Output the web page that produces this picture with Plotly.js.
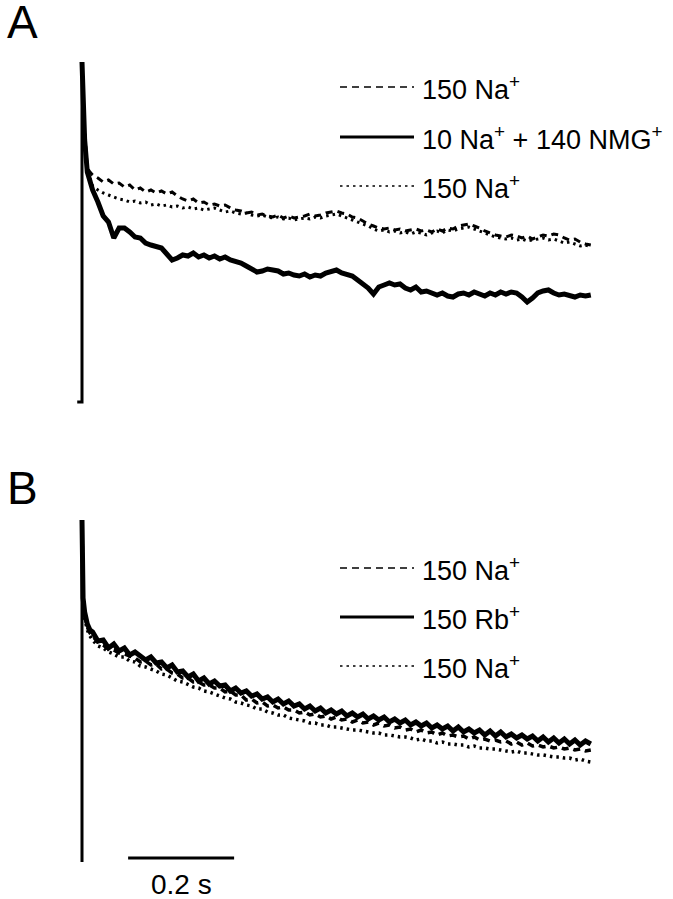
<!DOCTYPE html>
<html>
<head>
<meta charset="utf-8">
<script src="https://cdn.plot.ly/plotly-3.0.1.min.js"></script>
<style>html,body{margin:0;padding:0;background:#fff;}#chart{width:673px;height:899px;}</style>
</head>
<body>
<div id="chart"></div>
<script>
// time in ms
const timeMs = [0,2,5,10,15,20,30,40,50,60,70,80,90,100,110,120,130,140,150,160,170,180,190,200,210,220,230,240,250,260,270,280,290,300,310,320,330,340,350,360,370,380,390,400,410,420,430,440,450,460,470,480,490,500,510,520,530,540,550,560,570,580,590,600,610,620,630,640,650,660,670,680,690,700,710,720,730,740,750,760,770,780,790,800,810,820,830,840,850,860,870,880,890,900,910,920,930,940,950,960];

// Panel A (current, arbitrary units)
const aNa1 = [340,300,270,234,230,227,224,220,222,218,219,215,217,212,214,210,212,209,211,208,210,206,203,201,203,199,200,197,198,196,197,194,192,191,189,190,187,188,186,185,187,184,186,184,185,186,188,186,187,189,190,191,189,188,185,184,181,178,176,174,173,174,172,173,171,172,173,171,172,170,173,171,174,173,176,177,178,176,174,171,169,167,166,165,167,166,164,166,163,165,167,166,168,167,164,162,163,160,158,157];
const aNMG = [340,302,262,230,220,212,200,186,180,164,174,174,170,165,164,159,157,155,154,148,142,144,147,146,149,145,147,144,146,143,145,142,141,139,136,133,130,131,133,132,131,128,129,127,126,128,125,127,126,129,130,132,129,127,126,122,118,114,108,115,117,119,117,118,114,112,115,110,111,109,107,109,106,105,108,109,107,110,108,106,109,107,110,108,110,109,105,100,104,109,111,112,109,107,108,106,105,107,106,107];
const aNa2 = [340,298,268,232,224,216,212,209,207,205,203,202,200,201,199,200,197,198,196,197,195,196,194,195,193,194,192,193,194,192,190,191,189,188,189,187,186,187,185,184,185,183,184,182,183,184,183,185,184,186,187,188,186,184,182,180,178,176,173,171,172,170,171,169,170,168,170,169,167,169,171,169,172,171,173,174,175,173,171,169,167,165,164,163,164,162,163,161,162,163,164,162,163,161,159,160,158,156,157,155];

// Panel B
const bNa1 = [342,262,247,235,229,226,220,217,213,212,209,208,206,204,200,201,197,198,193,193,189,188,184,184,180,180,177,177,174,174,170,171,167,167,162,163,159,160,156,157,154,155,152,152,149,150,147,148,145,146,143,145,142,143,140,142,139,140,137,139,136,137,134,135,132,133,130,132,129,130,127,129,126,127,125,126,123,125,122,123,121,122,120,121,118,120,117,119,116,117,115,116,114,115,113,114,112,113,111,112];
const bRb = [342,264,250,238,232,230,221,222,214,218,211,214,207,210,206,202,205,199,200,194,197,190,191,185,188,181,184,178,181,176,177,171,174,169,171,166,168,163,165,160,163,158,161,156,158,153,156,151,154,149,152,148,151,146,149,145,148,143,146,142,145,140,143,139,142,137,140,136,139,134,137,133,136,131,135,130,133,129,132,127,131,126,130,125,128,124,127,123,126,121,125,120,124,119,123,118,122,117,121,118];
const bNa2 = [342,260,244,232,226,222,216,214,210,208,205,205,201,200,196,195,193,191,188,187,184,181,180,177,175,174,171,170,168,166,164,163,160,159,157,156,153,153,150,149,147,147,144,143,142,141,139,139,137,137,135,135,134,133,132,132,131,130,129,129,127,127,126,125,125,124,122,123,121,121,119,120,118,118,117,117,115,116,114,114,113,113,112,111,110,111,109,109,108,107,107,106,105,105,104,104,102,103,101,100];

// Onset steps
const onsetA_t = [-9, 0, 0];
const onsetA_v = [0, 0, 340];
const onsetB_t = [0, 0];
const onsetB_v = [0, 342];

// Scale bar (ms)
const scaleBarMs = [87, 287];
const scaleLabel = "0.2 s";

const legendA = ["150 Na<sup>+</sup>", "10 Na<sup>+</sup> + 140 NMG<sup>+</sup>", "150 Na<sup>+</sup>"];
const legendB = ["150 Na<sup>+</sup>", "150 Rb<sup>+</sup>", "150 Na<sup>+</sup>"];

const FONT = "Arial, 'Liberation Sans', sans-serif";
const dashStyle = "7px,5px";
const dotStyle = "2.5px,4px";

function tr(x, y, xa, ya, w, dash){
  return {x:x, y:y, xaxis:xa, yaxis:ya, type:'scatter', mode:'lines',
    line:{color:'#000', width:w, dash:dash}, hoverinfo:'skip', showlegend:false};
}

const data = [
  tr(onsetA_t, onsetA_v, 'x', 'y', 3, 'solid'),
  tr(timeMs, aNa1, 'x', 'y', 3, dashStyle),
  tr(timeMs, aNa2, 'x', 'y', 3, dotStyle),
  tr(timeMs, aNMG, 'x', 'y', 5, 'solid'),
  tr(onsetB_t, onsetB_v, 'x2', 'y2', 3, 'solid'),
  tr(timeMs, bNa1, 'x2', 'y2', 3.5, dashStyle),
  tr(timeMs, bNa2, 'x2', 'y2', 3.5, dotStyle),
  tr(timeMs, bRb, 'x2', 'y2', 5, 'solid'),
  {x: scaleBarMs, y: [4, 4], xaxis:'x2', yaxis:'y2', type:'scatter', mode:'lines',
    line:{color:'#000', width:3}, hoverinfo:'skip', showlegend:false}
];

const W = 673, H = 899;
const px = v => v / W;
const py = v => 1 - v / H;

const shapes = [];
const annotations = [];
const styles = [dashStyle, 'solid', dotStyle];
const widths = [1.5, 3, 1.5];
const rowsA = [87, 137, 186];
const rowsB = [568, 617, 666];
function addLegend(rows, labels){
  rows.forEach((r, i) => {
    shapes.push({type:'line', xref:'paper', yref:'paper', x0:px(340), x1:px(414), y0:py(r), y1:py(r),
      line:{color:'#000', width:widths[i], dash:styles[i]}});
    annotations.push({xref:'paper', yref:'paper', x:px(420), y:py(r+1), xanchor:'left', yanchor:'middle',
      text:labels[i], showarrow:false, font:{family:FONT, size:27, color:'#000'}});
  });
}
addLegend(rowsA, legendA);
addLegend(rowsB, legendB);

annotations.push({xref:'paper', yref:'paper', x:px(5), y:py(22), xanchor:'left', yanchor:'middle',
  text:'A', showarrow:false, font:{family:FONT, size:46, color:'#000'}});
annotations.push({xref:'paper', yref:'paper', x:px(5), y:py(488), xanchor:'left', yanchor:'middle',
  text:'B', showarrow:false, font:{family:FONT, size:46, color:'#000'}});
annotations.push({xref:'x2', yref:'y2', x:(scaleBarMs[0]+scaleBarMs[1])/2, y:-22, xanchor:'center', yanchor:'middle',
  text:scaleLabel, showarrow:false, font:{family:FONT, size:28, color:'#000'}});

const xr = [-154.72, 1115.09];
const ax = {showgrid:false, zeroline:false, showticklabels:false, ticks:'', showline:false, fixedrange:true};
const layout = {
  width:W, height:H, margin:{l:0, r:0, t:0, b:0}, paper_bgcolor:'#fff', plot_bgcolor:'rgba(0,0,0,0)',
  showlegend:false,
  xaxis: Object.assign({}, ax, {range:xr, domain:[0,1], anchor:'y'}),
  xaxis2: Object.assign({}, ax, {range:xr, domain:[0,1], anchor:'y2'}),
  yaxis: Object.assign({}, ax, {range:[-47.5, 402], domain:[0.5,1], anchor:'x'}),
  yaxis2: Object.assign({}, ax, {range:[-37, 412.5], domain:[0,0.5], anchor:'x2'}),
  shapes: shapes,
  annotations: annotations
};

Plotly.newPlot('chart', data, layout, {displayModeBar:false, staticPlot:true});
</script>
</body>
</html>
